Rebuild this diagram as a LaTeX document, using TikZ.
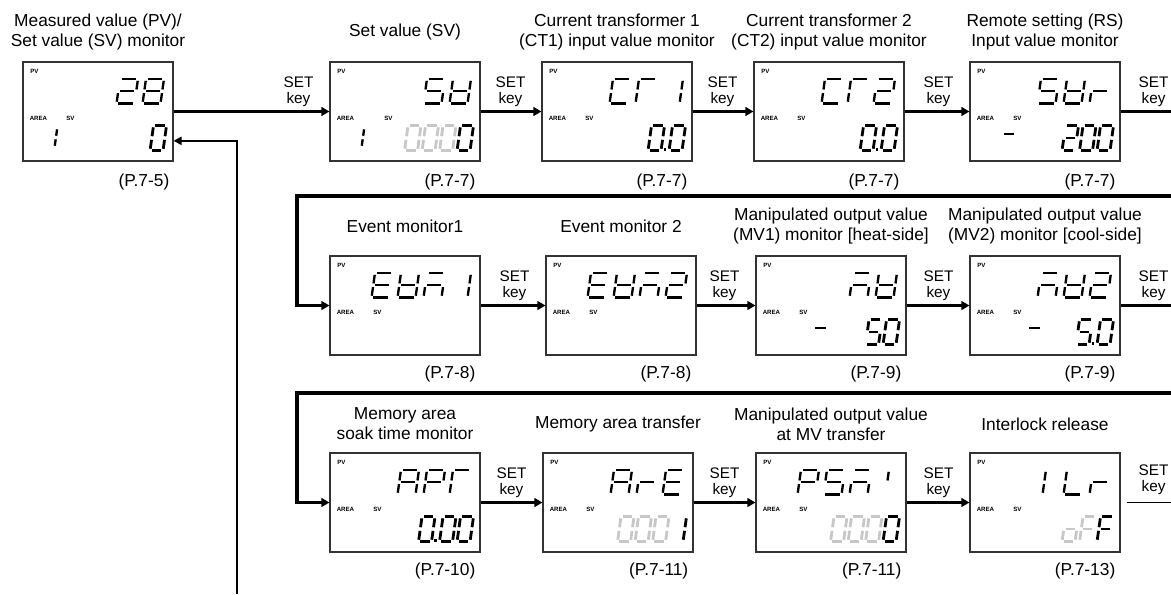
\documentclass[tikz,border=0pt]{standalone}
\usepackage{fontspec}
\setmainfont{Liberation Sans}
\usetikzlibrary{arrows.meta,positioning}

\tikzset{
  lcdbox/.style={draw=black!80,line width=0.8pt,minimum width=112.5pt,minimum height=74.25pt,inner sep=0pt},
  title/.style={align=center,font=\fontsize{13}{15}\selectfont},
  pageref/.style={anchor=east,inner sep=0pt,font=\fontsize{13}{15}\selectfont},
  setkey/.style={align=center,anchor=south,inner sep=1pt,font=\fontsize{11.5}{12.5}\selectfont},
  tag/.style={inner sep=0pt,font=\fontsize{4.6}{4.6}\bfseries},
  flow/.style={line width=2.3pt,-{Triangle[length=6pt,width=6.5pt]}},
  wrap/.style={line width=2.8pt,line join=miter,-{Triangle[length=6pt,width=6.5pt]}},
  back/.style={line width=1.5pt,-{Triangle[length=6pt,width=6pt]}},
  pvseg/.style={line width=1.75pt},
  svseg/.style={line width=2.1pt},
  svdim/.style={line width=2.1pt,draw=black!22},
}

% one slanted segment character: style, x, y (bottom left), width, height, segments
\newcommand{\lcdchar}[6]{%
  \begin{scope}[shift={(#2,#3)},xslant=0.14]
    \coordinate (a1) at (1.8,-#5);      \coordinate (a2) at (#4-1.8,-#5);
    \coordinate (b1) at (#4,-#5+1.8);   \coordinate (b2) at (#4,-#5/2-1.8);
    \coordinate (c1) at (#4,-#5/2+1.8); \coordinate (c2) at (#4,-1.8);
    \coordinate (d1) at (1.8,0);        \coordinate (d2) at (#4-1.8,0);
    \coordinate (e1) at (0,-#5/2+1.8);  \coordinate (e2) at (0,-1.8);
    \coordinate (f1) at (0,-#5+1.8);    \coordinate (f2) at (0,-#5/2-1.8);
    \coordinate (g1) at (1.8,-#5/2);    \coordinate (g2) at (#4-1.8,-#5/2);
    \foreach \sg in {#6} {\draw[#1] (\sg1) -- (\sg2);}
  \end{scope}}
\newcommand{\pvchar}[2]{\lcdchar{pvseg}{-31-26*#1}{-58}{18}{24.5}{#2}}
\newcommand{\svchar}[3][svseg]{\lcdchar{#1}{-23.5-17.5*#2}{-11}{13}{25}{#3}}
\newcommand{\svdot}[1]{\fill (-28.9-17.5*#1,-11) rectangle ++(2.8,-2.8);}
\newcommand{\areaone}{\lcdchar{pvseg}{-125}{-14}{6}{20}{b,c}}

\begin{document}
\begin{tikzpicture}[x=0.75pt,y=-0.75pt]
\useasboundingbox (0,0) rectangle (1171,594);

\node[lcdbox] (b11) at (98,111.5) {};
\node[lcdbox] (b12) at (405,111.5) {};
\node[lcdbox] (b13) at (617,111.5) {};
\node[lcdbox] (b14) at (829,111.5) {};
\node[lcdbox] (b15) at (1045,111.5) {};
\node[lcdbox] (b21) at (405,305.5) {};
\node[lcdbox] (b22) at (621,305.5) {};
\node[lcdbox] (b23) at (831,305.5) {};
\node[lcdbox] (b24) at (1045,305.5) {};
\node[lcdbox] (b31) at (405,502.5) {};
\node[lcdbox] (b32) at (618,502.5) {};
\node[lcdbox] (b33) at (831,502.5) {};
\node[lcdbox] (b34) at (1045,502.5) {};

\node[title] (t11) at (98,32) {Measured value (PV)/\\Set value (SV) monitor};
\node[title] (t12) at (405,32) {Set value (SV)};
\node[title] (t13) at (617,32) {Current transformer 1\\(CT1) input value monitor};
\node[title] (t14) at (829,32) {Current transformer 2\\(CT2) input value monitor};
\node[title] (t15) at (1045,32) {Remote setting (RS)\\Input value monitor};
\node[title] (t21) at (405,226) {Event monitor1};
\node[title] (t22) at (621,226) {Event monitor 2};
\node[title] (t23) at (831,226) {Manipulated output value\\(MV1) monitor [heat-side]};
\node[title] (t24) at (1045,226) {Manipulated output value\\(MV2) monitor [cool-side]};
\node[title] (t31) at (405,424) {Memory area\\soak time monitor};
\node[title] (t32) at (618,424) {Memory area transfer};
\node[title] (t33) at (831,424) {Manipulated output value\\at MV transfer};
\node[title] (t34) at (1045,424) {Interlock release};

\node[pageref] (p11) at ([shift={(-4,20)}]b11.south east) {(P.7-5)};
\node[pageref] (p12) at ([shift={(-5,20)}]b12.south east) {(P.7-7)};
\node[pageref] (p13) at ([shift={(-5,20)}]b13.south east) {(P.7-7)};
\node[pageref] (p14) at ([shift={(-5,20)}]b14.south east) {(P.7-7)};
\node[pageref] (p15) at ([shift={(-5,20)}]b15.south east) {(P.7-7)};
\node[pageref] (p21) at ([shift={(-5,18)}]b21.south east) {(P.7-8)};
\node[pageref] (p22) at ([shift={(-5,18)}]b22.south east) {(P.7-8)};
\node[pageref] (p23) at ([shift={(-5,18)}]b23.south east) {(P.7-9)};
\node[pageref] (p24) at ([shift={(-5,18)}]b24.south east) {(P.7-9)};
\node[pageref] (p31) at ([shift={(-5,18)}]b31.south east) {(P.7-10)};
\node[pageref] (p32) at ([shift={(-5,18)}]b32.south east) {(P.7-11)};
\node[pageref] (p33) at ([shift={(-5,18)}]b33.south east) {(P.7-11)};
\node[pageref] (p34) at ([shift={(-5,18)}]b34.south east) {(P.7-13)};

\foreach \bx/\sx in {b11/48,b12/59,b13/48,b14/48,b15/48,b21/48,b22/48,b23/48,b24/48,b31/48,b32/48,b33/48,b34/48}{
  \node[tag] (\bx-pv) at ([shift={(12,10)}]\bx.north west) {PV};
  \node[tag] (\bx-area) at ([shift={(16,57)}]\bx.north west) {AREA};
  \node[tag] (\bx-sv) at ([shift={(\sx,57)}]\bx.north west) {SV};
}

\draw[flow] (b11.east) -- (b12.west);
\draw[flow] (b12.east) -- (b13.west);
\draw[flow] (b13.east) -- (b14.west);
\draw[flow] (b14.east) -- (b15.west);
\draw[flow] (b21.east) -- (b22.west);
\draw[flow] (b22.east) -- (b23.west);
\draw[flow] (b23.east) -- (b24.west);
\draw[flow] (b31.east) -- (b32.west);
\draw[flow] (b32.east) -- (b33.west);
\draw[flow] (b33.east) -- (b34.west);
\node[setkey] (k12) at ([shift={(-31,-3)}]b12.west) {SET\\key};
\node[setkey] (k13) at ([shift={(-31,-3)}]b13.west) {SET\\key};
\node[setkey] (k14) at ([shift={(-31,-3)}]b14.west) {SET\\key};
\node[setkey] (k15) at ([shift={(-31,-3)}]b15.west) {SET\\key};
\node[setkey] (k22) at ([shift={(-31,-3)}]b22.west) {SET\\key};
\node[setkey] (k23) at ([shift={(-31,-3)}]b23.west) {SET\\key};
\node[setkey] (k24) at ([shift={(-31,-3)}]b24.west) {SET\\key};
\node[setkey] (k32) at ([shift={(-31,-3)}]b32.west) {SET\\key};
\node[setkey] (k33) at ([shift={(-31,-3)}]b33.west) {SET\\key};
\node[setkey] (k34) at ([shift={(-31,-3)}]b34.west) {SET\\key};

\coordinate (out1) at (1171,111.5);
\coordinate (out2) at (1171,305.5);
\coordinate (out3) at (1171,502.5);
\draw[line width=2.3pt] (b15.east) -- (out1);
\draw[line width=2.3pt] (b24.east) -- (out2);
\draw[line width=1.1pt] ([xshift=5pt]b34.east) -- (out3);
\node[setkey] (k16) at ([shift={(33,-3)}]b15.east) {SET\\key};
\node[setkey] (k25) at ([shift={(33,-3)}]b24.east) {SET\\key};
\node[setkey] (k35) at ([shift={(33,-6)}]b34.east) {SET\\key};

\coordinate (w1a) at (1171,196);
\coordinate (w1b) at (297,196);
\coordinate (w2a) at (1171,393);
\coordinate (w2b) at (297,393);
\draw[wrap] (w1a) -- (w1b) |- (b21.west);
\draw[wrap] (w2a) -- (w2b) |- (b31.west);
\coordinate (back0) at (237,594);
\draw[back] (back0) |- ([yshift=-22pt]b11.east);

\begin{scope}[shift={(b11.south east)}]
  \pvchar{1}{a,b,g,e,d} \pvchar{0}{a,b,c,d,e,f,g}
  \svchar{0}{a,b,c,d,e,f} \areaone
\end{scope}
\begin{scope}[shift={(b12.south east)}]
  \pvchar{1}{a,f,g,c,d} \pvchar{0}{b,c,d,e,f,g}
  \svchar[svdim]{3}{a,b,c,d,e,f} \svchar[svdim]{2}{a,b,c,d,e,f}
  \svchar[svdim]{1}{a,b,c,d,e,f} \svchar{0}{a,b,c,d,e,f} \areaone
\end{scope}
\begin{scope}[shift={(b13.south east)}]
  \pvchar{2}{a,d,e,f} \pvchar{1}{a,e,f} \pvchar{0}{b,c}
  \svchar{1.2}{a,b,c,d,e,f} \svdot{0} \svchar{0}{a,b,c,d,e,f}
\end{scope}
\begin{scope}[shift={(b14.south east)}]
  \pvchar{2}{a,d,e,f} \pvchar{1}{a,e,f} \pvchar{0}{a,b,g,e,d}
  \svchar{1.2}{a,b,c,d,e,f} \svdot{0} \svchar{0}{a,b,c,d,e,f}
\end{scope}
\begin{scope}[shift={(b15.south east)}]
  \pvchar{2}{a,f,g,c,d} \pvchar{1}{b,c,d,e,f,g} \pvchar{0}{e,g}
  \lcdchar{svseg}{-120}{-15}{13.5}{25}{g}
  \svchar{2}{a,b,g,e,d} \svchar{1}{a,b,c,d,e,f} \svchar{0}{a,b,c,d,e,f}
\end{scope}
\begin{scope}[shift={(b21.south east)}]
  \pvchar{3}{a,d,e,f,g} \pvchar{2}{b,c,d,e,f,g} \pvchar{1}{a,c,e,g} \pvchar{0}{b,c}
\end{scope}
\begin{scope}[shift={(b22.south east)}]
  \pvchar{3}{a,d,e,f,g} \pvchar{2}{b,c,d,e,f,g} \pvchar{1}{a,c,e,g} \pvchar{0}{a,b,g,e,d}
\end{scope}
\begin{scope}[shift={(b23.south east)}]
  \pvchar{1}{a,c,e,g} \pvchar{0}{b,c,d,e,f,g}
  \lcdchar{svseg}{-95}{-15}{14.5}{25}{g}
  \svchar{1}{a,f,g,c,d} \svchar{0}{a,b,c,d,e,f}
\end{scope}
\begin{scope}[shift={(b24.south east)}]
  \pvchar{2}{a,c,e,g} \pvchar{1}{b,c,d,e,f,g} \pvchar{0}{a,b,g,e,d}
  \lcdchar{svseg}{-95}{-15}{14.5}{25}{g}
  \svchar{1.2}{a,f,g,c,d} \svdot{0} \svchar{0}{a,b,c,d,e,f}
\end{scope}
\begin{scope}[shift={(b31.south east)}]
  \pvchar{2}{a,b,c,e,f,g} \pvchar{1}{a,b,e,f,g} \pvchar{0}{a,e,f}
  \svchar{2.2}{a,b,c,d,e,f} \svdot{1} \svchar{1}{a,b,c,d,e,f} \svchar{0}{a,b,c,d,e,f}
\end{scope}
\begin{scope}[shift={(b32.south east)}]
  \pvchar{2}{a,b,c,e,f,g} \pvchar{1}{e,g} \pvchar{0}{a,d,e,f,g}
  \svchar[svdim]{3}{a,b,c,d,e,f} \svchar[svdim]{2}{a,b,c,d,e,f}
  \svchar[svdim]{1}{a,b,c,d,e,f} \svchar{0}{b,c}
\end{scope}
\begin{scope}[shift={(b33.south east)}]
  \pvchar{3}{a,b,e,f,g} \pvchar{2}{a,f,g,c,d} \pvchar{1}{a,c,e,g}
  \lcdchar{pvseg}{-21}{-58}{4}{24.5}{f}
  \svchar[svdim]{3}{a,b,c,d,e,f} \svchar[svdim]{2}{a,b,c,d,e,f}
  \svchar[svdim]{1}{a,b,c,d,e,f} \svchar{0}{a,b,c,d,e,f}
\end{scope}
\begin{scope}[shift={(b34.south east)}]
  \lcdchar{pvseg}{-78}{-58}{18}{24.5}{e,f} \pvchar{1}{d,e,f} \pvchar{0}{e,g}
  \svchar[svdim]{2}{c,d,e,g} \svchar[svdim]{1}{a,e,f,g} \svchar{0}{a,e,f,g}
\end{scope}
\end{tikzpicture}
\end{document}
